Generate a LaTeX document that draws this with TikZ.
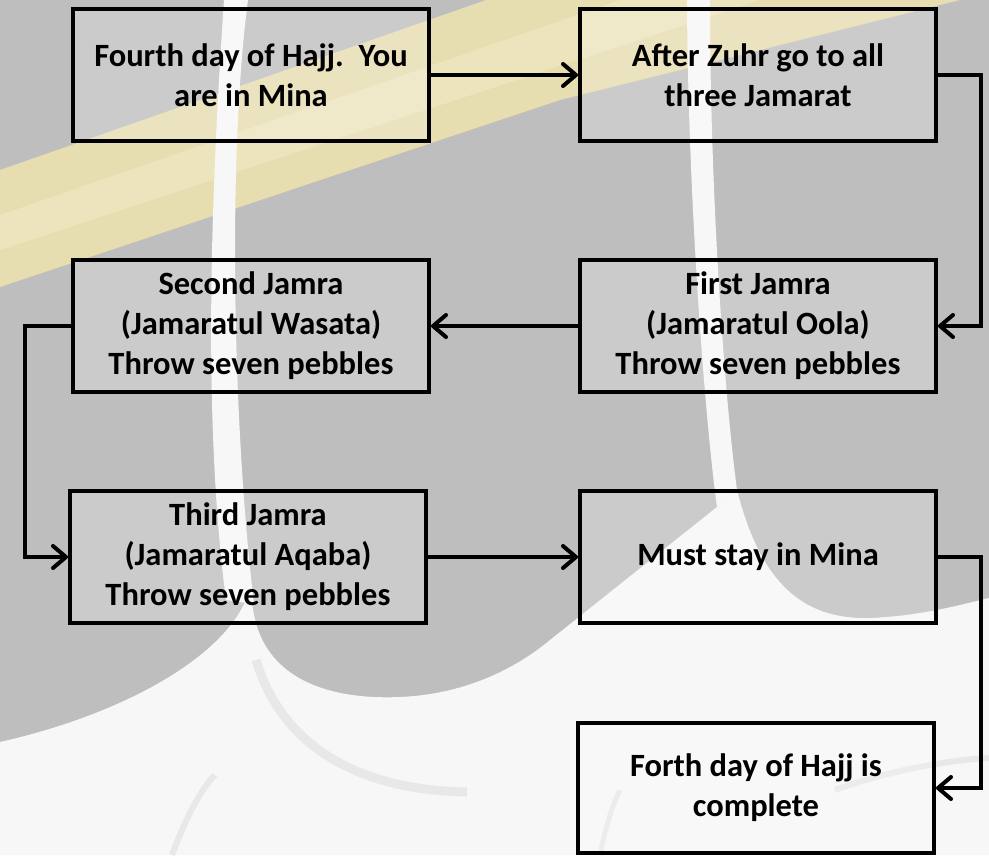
\documentclass[tikz,border=0pt]{standalone}
\usepackage{fontspec}
\setmainfont{Carlito}
\usetikzlibrary{arrows.meta}

\definecolor{bggrey}{RGB}{190,190,190}
\definecolor{bgwhite}{RGB}{247,247,247}
\definecolor{band}{RGB}{230,221,177}
\definecolor{bandlight}{RGB}{236,228,188}
\definecolor{arcgrey}{RGB}{232,232,232}

\begin{document}
\begin{tikzpicture}[x=1pt,y=-1pt,
    box/.style={draw, line width=4pt, fill=white, fill opacity=0.2, text opacity=1,
        minimum width=356pt, minimum height=132pt, inner sep=0pt, align=center,
        font=\bfseries\fontsize{32.5}{40}\selectfont},
    arr/.style={line width=4pt, -{Straight Barb[length=13pt,width=22pt,round]}}]
    \useasboundingbox (0,0) rectangle (989,855);

    \fill[bggrey] (0,0) rectangle (989,855);
    \fill[band] (0,170) -- (486,0) -- (960,0) -- (560,100) -- (0,287) -- cycle;
    \fill[bandlight] (0,215) -- (620,0) -- (760,0) -- (0,250) -- cycle;

    \fill[bgwhite] (0,855) -- (0,742) .. controls (120,715) and (220,660) .. (246,600)
        -- (252,600) .. controls (258,680) and (330,700) .. (400,697)
        .. controls (470,694) and (520,665) .. (550,640) -- (717,507) -- (737,490)
        .. controls (760,580) and (800,620) .. (870,618)
        .. controls (920,616) and (960,605) .. (989,598) -- (989,855) -- cycle;
    \fill[bgwhite] (224,0) .. controls (214,150) and (200,400) .. (226,600)
        -- (254,604) .. controls (232,420) and (228,150) .. (248,0) -- cycle;
    \fill[bgwhite] (687,0) .. controls (688,200) and (705,420) .. (717,507)
        -- (737,490) .. controls (725,400) and (710,200) .. (710,0) -- cycle;

    \draw[arcgrey, line width=9pt] (256,660) .. controls (280,740) and (350,790) .. (467,792);
    \draw[arcgrey, line width=6pt] (172,855) .. controls (185,820) and (200,790) .. (215,775);
    \draw[arcgrey, line width=6pt] (835,790) .. controls (890,770) and (950,760) .. (989,758);
    \draw[arcgrey, line width=5pt] (600,855) .. controls (605,830) and (612,805) .. (620,790);

    \node[box] (fourth) at (251,75) {Fourth day of Hajj.\ \ You\\are in Mina};
    \node[box] (zuhr) at (758,75) {After Zuhr go to all\\three Jamarat};
    \node[box] (first) at (758,326) {First Jamra\\(Jamaratul Oola)\\Throw seven pebbles};
    \node[box] (second) at (251,326) {Second Jamra\\(Jamaratul Wasata)\\Throw seven pebbles};
    \node[box] (third) at (248,557) {Third Jamra\\(Jamaratul Aqaba)\\Throw seven pebbles};
    \node[box] (stay) at (758,557) {Must stay in Mina};
    \node[box, minimum height=130pt] (done) at (756,788) {Forth day of Hajj is\\complete};

    \draw[arr] (fourth) -- (zuhr);
    \draw[arr] (zuhr.east) -- ++(43,0) |- (first.east);
    \draw[arr] (first) -- (second);
    \draw[arr] (second.west) -- ++(-46,0) |- (third.west);
    \draw[arr] (third) -- (stay);
    \draw[arr] (stay.east) -- ++(43,0) |- (done.east);
\end{tikzpicture}
\end{document}
